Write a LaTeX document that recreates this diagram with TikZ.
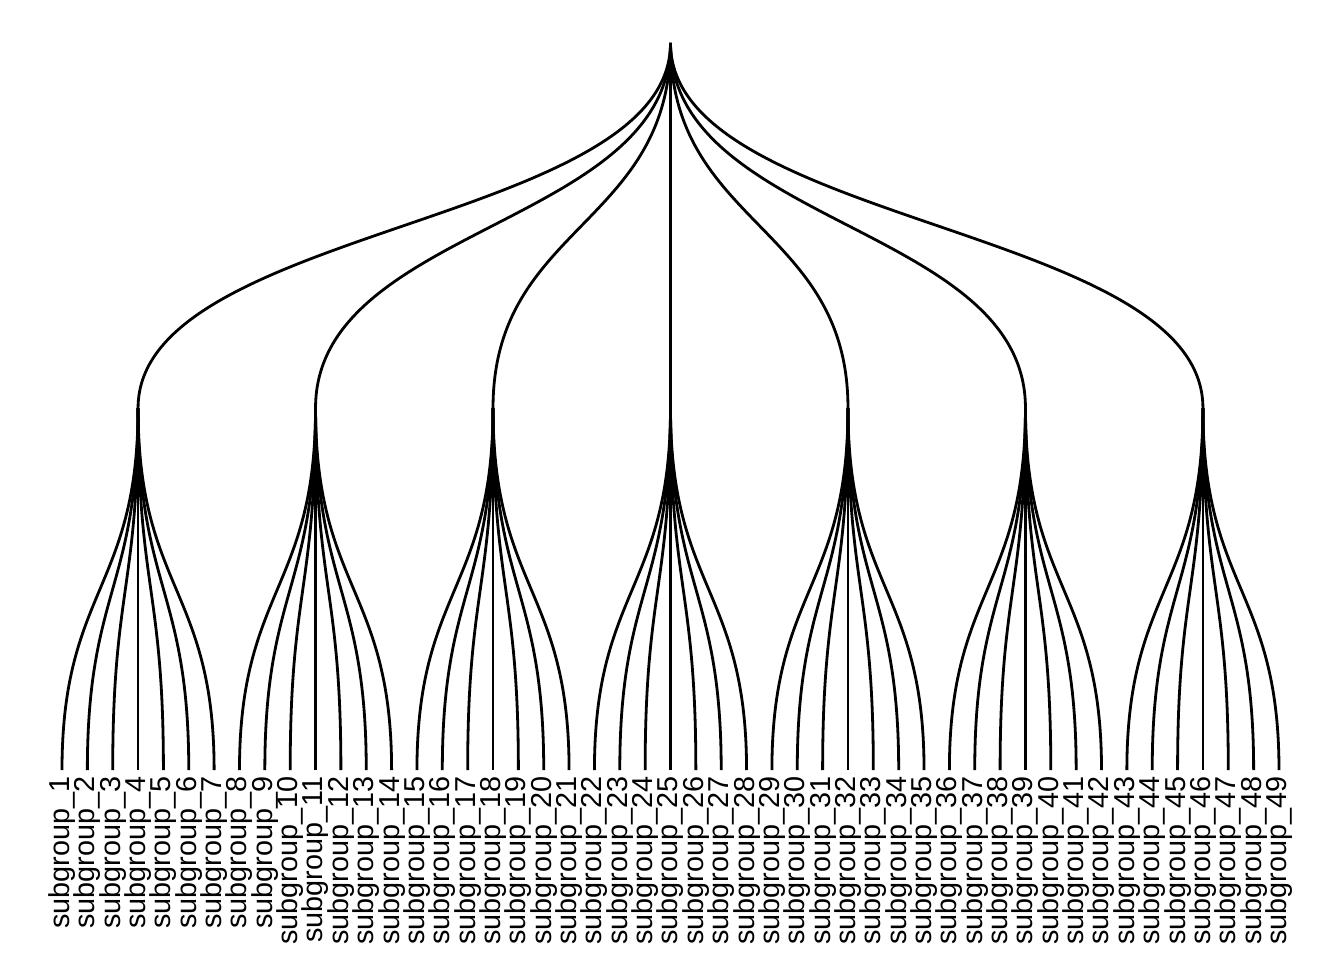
\documentclass[tikz,border=0pt]{standalone}
\usepackage{fontspec}
\setmainfont{Liberation Sans}
\begin{document}
\begin{tikzpicture}[x=1pt,y=-1pt,
  edge/.style={line width=2.8pt,black},
  leaflabel/.style={rotate=90,anchor=east,inner sep=0pt,font=\fontsize{28.8}{31}\selectfont}]
\useasboundingbox (0,0) rectangle (1344,960);
\coordinate (root) at (670.5,43);
\coordinate (mA) at (0,225.5);
\coordinate (mB) at (0,589);
\foreach \j in {1,...,7}{
  \pgfmathsetmacro{\gx}{62+(7*\j-4)*25.354}
  \coordinate (g\j) at (\gx,408);
}
\foreach \i in {1,...,49}{
  \pgfmathsetmacro{\lx}{62+(\i-1)*25.354}
  \coordinate (l\i) at (\lx,770);
  \node[leaflabel] (t\i) at (\lx,776.5) {subgroup\_\i};
}
\foreach \j in {1,...,7}{
  \draw[edge] (root) .. controls (root |- mA) and (g\j |- mA) .. (g\j);
  \foreach \k in {1,...,7}{
    \pgfmathtruncatemacro{\li}{7*(\j-1)+\k}
    \draw[edge] (g\j) .. controls (g\j |- mB) and (l\li |- mB) .. (l\li);
  }
}
\end{tikzpicture}
\end{document}
